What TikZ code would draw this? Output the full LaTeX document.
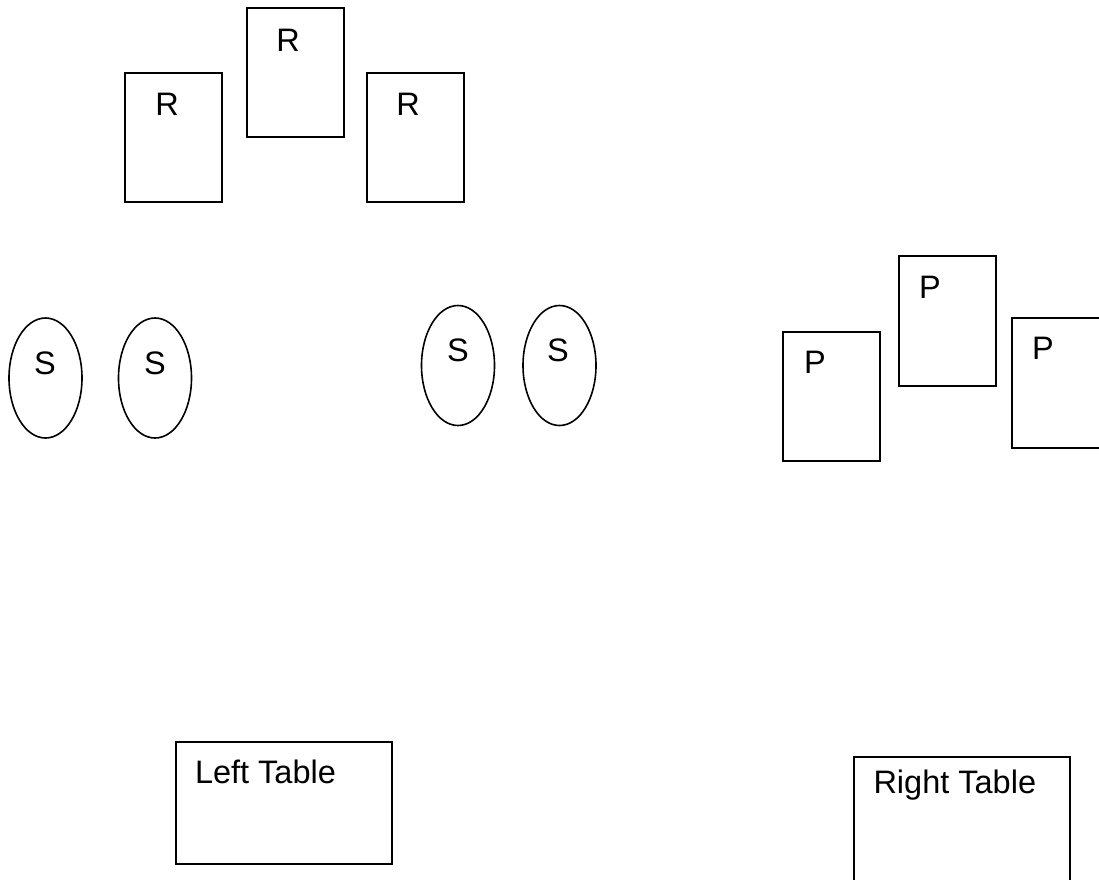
\documentclass[tikz,border=0pt]{standalone}
\usepackage{fontspec}
\setmainfont{Liberation Sans}
\usetikzlibrary{shapes.geometric}
\begin{document}
\begin{tikzpicture}[x=1pt,y=-1pt,
  shapeline/.style={draw=black,line width=1.6pt,inner sep=0pt,outer sep=0pt},
  tallbox/.style={shapeline,rectangle,minimum width=97pt,minimum height=129pt},
  oval/.style={shapeline,ellipse,minimum width=73pt,minimum height=120pt},
  tablebox/.style={shapeline,rectangle,minimum width=216pt,minimum height=122pt},
  lbl/.style={inner sep=0pt,outer sep=0pt,anchor=base,font=\fontsize{32.5}{37}\selectfont},
  tlbl/.style={lbl,anchor=base west}]
\useasboundingbox (0,0) rectangle (1099,879);
\clip (0,0) rectangle (1099,879);
% R boxes
\node[tallbox] (r1) at (173.5,137.5) {};
\node[tallbox] (r2) at (295.5,72.5) {};
\node[tallbox] (r3) at (415.5,137.5) {};
\node[lbl] (r1t) at (167,115) {R};
\node[lbl] (r2t) at (288,51) {R};
\node[lbl] (r3t) at (408,115) {R};
% S ellipses
\node[oval] (s1) at (45.5,378) {};
\node[oval] (s2) at (155,378) {};
\node[oval] (s3) at (458,365.5) {};
\node[oval] (s4) at (559.5,365.5) {};
\node[lbl] (s1t) at (45,374) {S};
\node[lbl] (s2t) at (155,374) {S};
\node[lbl] (s3t) at (458,361) {S};
\node[lbl] (s4t) at (558,361) {S};
% P boxes
\node[tallbox] (p1) at (831.5,396.5) {};
\node[tallbox,minimum height=130pt] (p2) at (947.5,321) {};
\node[tallbox,minimum height=130pt] (p3) at (1060.5,383) {};
\node[lbl] (p1t) at (815,373) {P};
\node[lbl] (p2t) at (930,298) {P};
\node[lbl] (p3t) at (1043,359) {P};
% tables
\node[tablebox] (lt) at (284,803) {};
\node[tablebox,minimum height=125pt] (rt) at (962,819.5) {};
\node[tlbl] (ltt) at (195,783) {Left Table};
\node[tlbl] (rtt) at (873.5,793) {Right Table};
\end{tikzpicture}
\end{document}
